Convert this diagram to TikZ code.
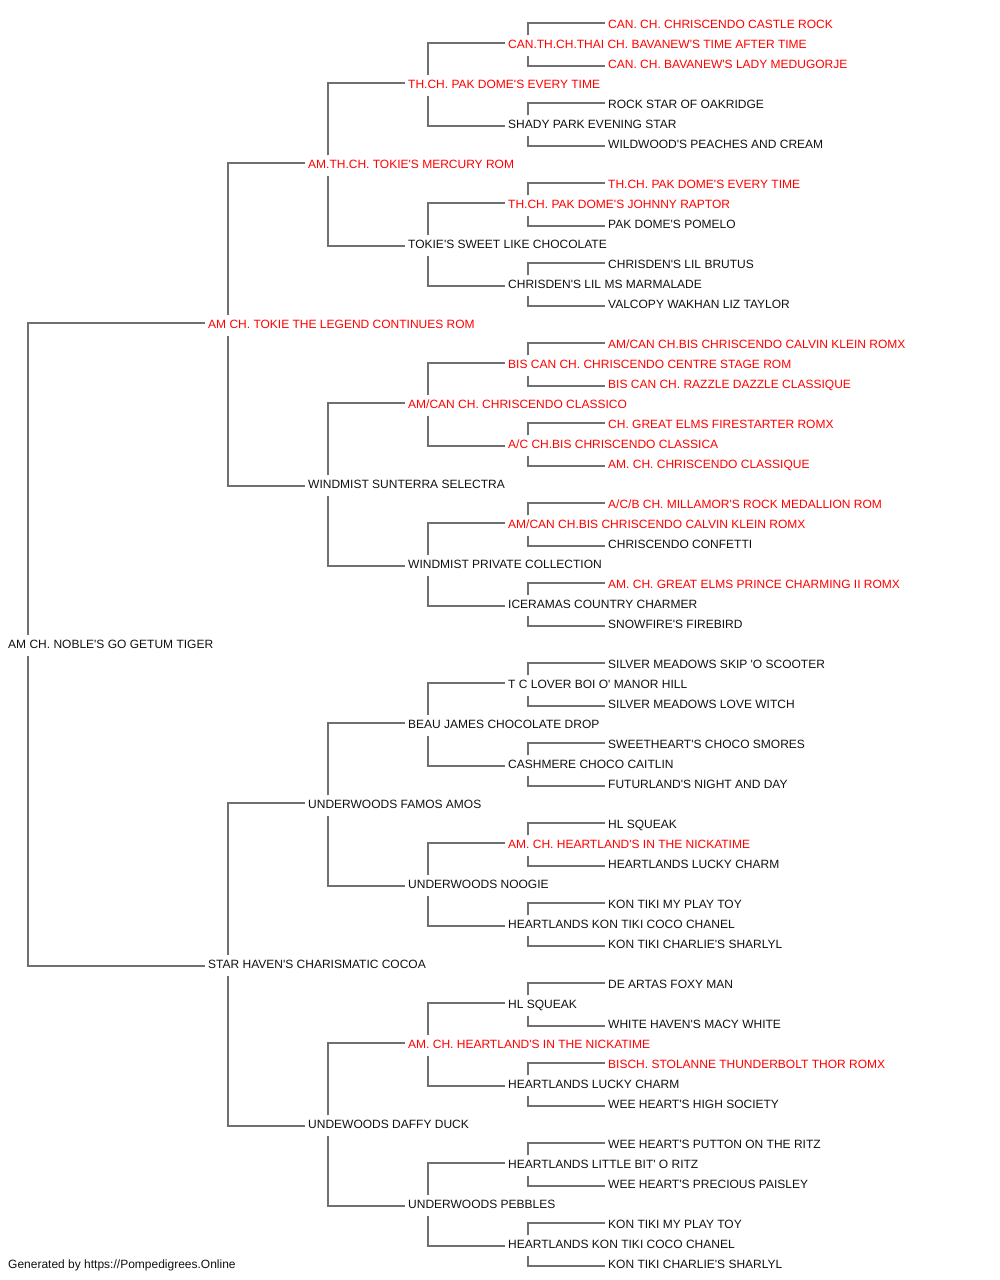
\documentclass[tikz,border=0pt]{standalone}
\usepackage{fontspec}
\setmainfont{Liberation Sans}[Ligatures=TeXOff]
\definecolor{pedred}{RGB}{255,0,0}
\definecolor{pedblack}{RGB}{17,17,17}
\definecolor{linegray}{RGB}{112,112,112}
\newcommand\pednode[4]{\node[#1] (n#2) at ({#3-3},{28.3+20*#2}) {#4};}
\begin{document}
\begin{tikzpicture}[x=1pt,y=-1pt,
  pn/.style={anchor=base west, inner xsep=3pt, inner ysep=0pt, text height=12.8pt, text depth=7.2pt, font=\fontsize{12}{14}\selectfont},
  rd/.style={pn, text=pedred},
  bk/.style={pn, text=pedblack},
  ln/.style={draw=linegray, line width=2pt}]
\useasboundingbox (0,0) rectangle (1000,1280);
% generation 5
\pednode{rd}{0}{608}{CAN. CH. CHRISCENDO CASTLE ROCK}
\pednode{rd}{2}{608}{CAN. CH. BAVANEW'S LADY MEDUGORJE}
\pednode{bk}{4}{608}{ROCK STAR OF OAKRIDGE}
\pednode{bk}{6}{608}{WILDWOOD'S PEACHES AND CREAM}
\pednode{rd}{8}{608}{TH.CH. PAK DOME'S EVERY TIME}
\pednode{bk}{10}{608}{PAK DOME'S POMELO}
\pednode{bk}{12}{608}{CHRISDEN'S LIL BRUTUS}
\pednode{bk}{14}{608}{VALCOPY WAKHAN LIZ TAYLOR}
\pednode{rd}{16}{608}{AM/CAN CH.BIS CHRISCENDO CALVIN KLEIN ROMX}
\pednode{rd}{18}{608}{BIS CAN CH. RAZZLE DAZZLE CLASSIQUE}
\pednode{rd}{20}{608}{CH. GREAT ELMS FIRESTARTER ROMX}
\pednode{rd}{22}{608}{AM. CH. CHRISCENDO CLASSIQUE}
\pednode{rd}{24}{608}{A/C/B CH. MILLAMOR'S ROCK MEDALLION ROM}
\pednode{bk}{26}{608}{CHRISCENDO CONFETTI}
\pednode{rd}{28}{608}{AM. CH. GREAT ELMS PRINCE CHARMING II ROMX}
\pednode{bk}{30}{608}{SNOWFIRE'S FIREBIRD}
\pednode{bk}{32}{608}{SILVER MEADOWS SKIP 'O SCOOTER}
\pednode{bk}{34}{608}{SILVER MEADOWS LOVE WITCH}
\pednode{bk}{36}{608}{SWEETHEART'S CHOCO SMORES}
\pednode{bk}{38}{608}{FUTURLAND'S NIGHT AND DAY}
\pednode{bk}{40}{608}{HL SQUEAK}
\pednode{bk}{42}{608}{HEARTLANDS LUCKY CHARM}
\pednode{bk}{44}{608}{KON TIKI MY PLAY TOY}
\pednode{bk}{46}{608}{KON TIKI CHARLIE'S SHARLYL}
\pednode{bk}{48}{608}{DE ARTAS FOXY MAN}
\pednode{bk}{50}{608}{WHITE HAVEN'S MACY WHITE}
\pednode{rd}{52}{608}{BISCH. STOLANNE THUNDERBOLT THOR ROMX}
\pednode{bk}{54}{608}{WEE HEART'S HIGH SOCIETY}
\pednode{bk}{56}{608}{WEE HEART'S PUTTON ON THE RITZ}
\pednode{bk}{58}{608}{WEE HEART'S PRECIOUS PAISLEY}
\pednode{bk}{60}{608}{KON TIKI MY PLAY TOY}
\pednode{bk}{62}{608}{KON TIKI CHARLIE'S SHARLYL}
% generation 4
\pednode{rd}{1}{508}{CAN.TH.CH.THAI CH. BAVANEW'S TIME AFTER TIME}
\pednode{bk}{5}{508}{SHADY PARK EVENING STAR}
\pednode{rd}{9}{508}{TH.CH. PAK DOME'S JOHNNY RAPTOR}
\pednode{bk}{13}{508}{CHRISDEN'S LIL MS MARMALADE}
\pednode{rd}{17}{508}{BIS CAN CH. CHRISCENDO CENTRE STAGE ROM}
\pednode{rd}{21}{508}{A/C CH.BIS CHRISCENDO CLASSICA}
\pednode{rd}{25}{508}{AM/CAN CH.BIS CHRISCENDO CALVIN KLEIN ROMX}
\pednode{bk}{29}{508}{ICERAMAS COUNTRY CHARMER}
\pednode{bk}{33}{508}{T C LOVER BOI O' MANOR HILL}
\pednode{bk}{37}{508}{CASHMERE CHOCO CAITLIN}
\pednode{rd}{41}{508}{AM. CH. HEARTLAND'S IN THE NICKATIME}
\pednode{bk}{45}{508}{HEARTLANDS KON TIKI COCO CHANEL}
\pednode{bk}{49}{508}{HL SQUEAK}
\pednode{bk}{53}{508}{HEARTLANDS LUCKY CHARM}
\pednode{bk}{57}{508}{HEARTLANDS LITTLE BIT' O RITZ}
\pednode{bk}{61}{508}{HEARTLANDS KON TIKI COCO CHANEL}
% generation 3
\pednode{rd}{3}{408}{TH.CH. PAK DOME'S EVERY TIME}
\pednode{bk}{11}{408}{TOKIE'S SWEET LIKE CHOCOLATE}
\pednode{rd}{19}{408}{AM/CAN CH. CHRISCENDO CLASSICO}
\pednode{bk}{27}{408}{WINDMIST PRIVATE COLLECTION}
\pednode{bk}{35}{408}{BEAU JAMES CHOCOLATE DROP}
\pednode{bk}{43}{408}{UNDERWOODS NOOGIE}
\pednode{rd}{51}{408}{AM. CH. HEARTLAND'S IN THE NICKATIME}
\pednode{bk}{59}{408}{UNDERWOODS PEBBLES}
% generation 2
\pednode{rd}{7}{308}{AM.TH.CH. TOKIE'S MERCURY ROM}
\pednode{bk}{23}{308}{WINDMIST SUNTERRA SELECTRA}
\pednode{bk}{39}{308}{UNDERWOODS FAMOS AMOS}
\pednode{bk}{55}{308}{UNDEWOODS DAFFY DUCK}
% generation 1
\pednode{rd}{15}{208}{AM CH. TOKIE THE LEGEND CONTINUES ROM}
\pednode{bk}{47}{208}{STAR HAVEN'S CHARISMATIC COCOA}
% generation 0
\pednode{bk}{31}{8}{AM CH. NOBLE'S GO GETUM TIGER}
% footer
\node[bk] (footer) at (5,1268.3) {Generated by https://Pompedigrees.Online};
% connectors
\foreach \p/\s/\d in {31/15/47, 15/7/23, 47/39/55, 7/3/11, 23/19/27, 39/35/43, 55/51/59,
  3/1/5, 11/9/13, 19/17/21, 27/25/29, 35/33/37, 43/41/45, 51/49/53, 59/57/61,
  1/0/2, 5/4/6, 9/8/10, 13/12/14, 17/16/18, 21/20/22, 25/24/26, 29/28/30,
  33/32/34, 37/36/38, 41/40/42, 45/44/46, 49/48/50, 53/52/54, 57/56/58, 61/60/62}
{
  \draw[ln] ([xshift=23pt]n\p.north west) |- ([yshift=3pt]n\s.west);
  \draw[ln] ([xshift=23pt]n\p.south west) |- (n\d.west);
}
\end{tikzpicture}
\end{document}
